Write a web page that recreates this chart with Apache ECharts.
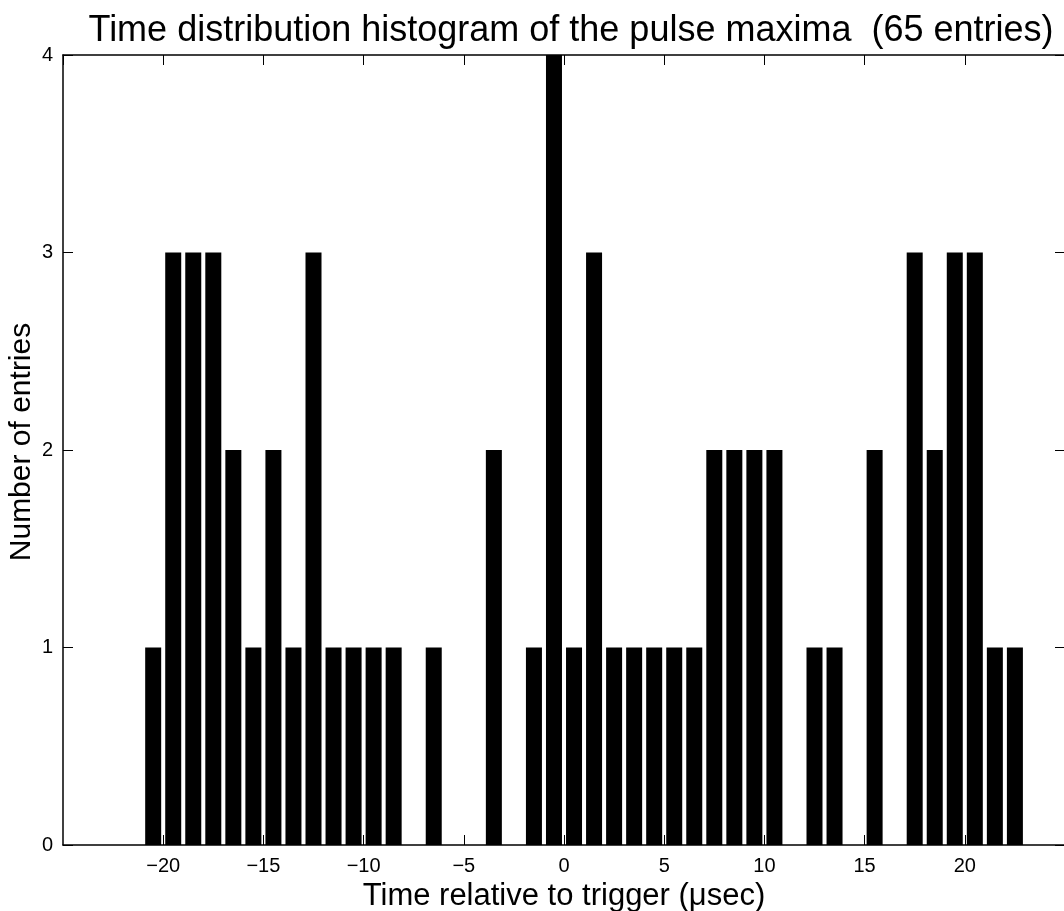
<!DOCTYPE html>
<html>
<head>
<meta charset="utf-8">
<script src="https://cdn.jsdelivr.net/npm/echarts@6/dist/echarts.min.js"></script>
<style>
html,body{margin:0;padding:0;background:#fff;}
#chart{width:1064px;height:911px;}
</style>
</head>
<body>
<div id="chart"></div>
<script>
// Bin centres (µsec) and counts
const binCenters = [-20.5,-19.5,-18.5,-17.5,-16.5,-15.5,-14.5,-13.5,-12.5,-11.5,-10.5,-9.5,-8.5,-6.5,-3.5,-1.5,-0.5,0.5,1.5,2.5,3.5,4.5,5.5,6.5,7.5,8.5,9.5,10.5,12.5,13.5,15.5,17.5,18.5,19.5,20.5,21.5,22.5];
const counts     = [1,3,3,3,2,1,2,1,3,1,1,1,1,1,2,1,4,1,3,1,1,1,1,1,2,2,2,2,1,1,2,3,2,3,3,1,1];
const titleText = 'Time distribution histogram of the pulse maxima  (65 entries)';
const xLabel = 'Time relative to trigger (\u03bcsec)';
const yLabel = 'Number of entries';

const FONT = '"Liberation Sans", Arial, Helvetica, sans-serif';
const data = binCenters.map((x, i) => [x, counts[i]]);
const fmtX = v => (v < 0 ? '\u2212' + Math.abs(v) : String(v));

const chart = echarts.init(document.getElementById('chart'), null, {renderer: 'canvas'});
chart.setOption({
  animation: false,
  backgroundColor: '#ffffff',
  title: {
    text: titleText,
    left: 566, top: 8, textAlign: 'center',
    textStyle: {fontFamily: FONT, fontSize: 36, fontWeight: 'normal', color: '#000'}
  },
  grid: {left: 63, top: 55, width: 1002, height: 790, containLabel: false, outerBoundsMode: 'none'},
  xAxis: [{
    type: 'value', min: -25, max: 25, interval: 5, position: 'bottom',
    name: xLabel, nameLocation: 'middle', nameGap: 35,
    nameTextStyle: {fontFamily: FONT, fontSize: 31, color: '#000'},
    axisLine: {show: true, onZero: false, lineStyle: {color: '#000', width: 1.5}},
    axisTick: {show: true, inside: true, length: 10, lineStyle: {color: '#000'}},
    axisLabel: {fontFamily: FONT, fontSize: 20, color: '#000', margin: 11, formatter: fmtX,
      showMinLabel: false, showMaxLabel: false},
    splitLine: {show: false}
  }, {
    type: 'value', min: -25, max: 25, interval: 5, position: 'top',
    axisLine: {show: true, onZero: false, lineStyle: {color: '#000', width: 1.5}},
    axisTick: {show: true, inside: true, length: 10, lineStyle: {color: '#000'}},
    axisLabel: {show: false}, splitLine: {show: false}
  }],
  yAxis: [{
    type: 'value', min: 0, max: 4, interval: 1, position: 'left',
    name: yLabel, nameLocation: 'middle', nameGap: 26, nameRotate: 90, nameMoveOverlap: false,
    nameTextStyle: {fontFamily: FONT, fontSize: 30, color: '#000', padding: [0, 0, 0, 16]},
    axisLine: {show: true, onZero: false, lineStyle: {color: '#000', width: 1.5}},
    axisTick: {show: true, inside: true, length: 10, lineStyle: {color: '#000'}},
    axisLabel: {fontFamily: FONT, fontSize: 20, color: '#000', margin: 10},
    splitLine: {show: false}
  }, {
    type: 'value', min: 0, max: 4, interval: 1, position: 'right',
    axisLine: {show: true, onZero: false, lineStyle: {color: '#000', width: 1.5}},
    axisTick: {show: true, inside: true, length: 10, lineStyle: {color: '#000'}},
    axisLabel: {show: false}, splitLine: {show: false}
  }],
  series: [{
    type: 'bar', xAxisIndex: 0, yAxisIndex: 0,
    data: data, barWidth: 16,
    itemStyle: {color: '#000'},
    z: 3
  }]
});
</script>
</body>
</html>
